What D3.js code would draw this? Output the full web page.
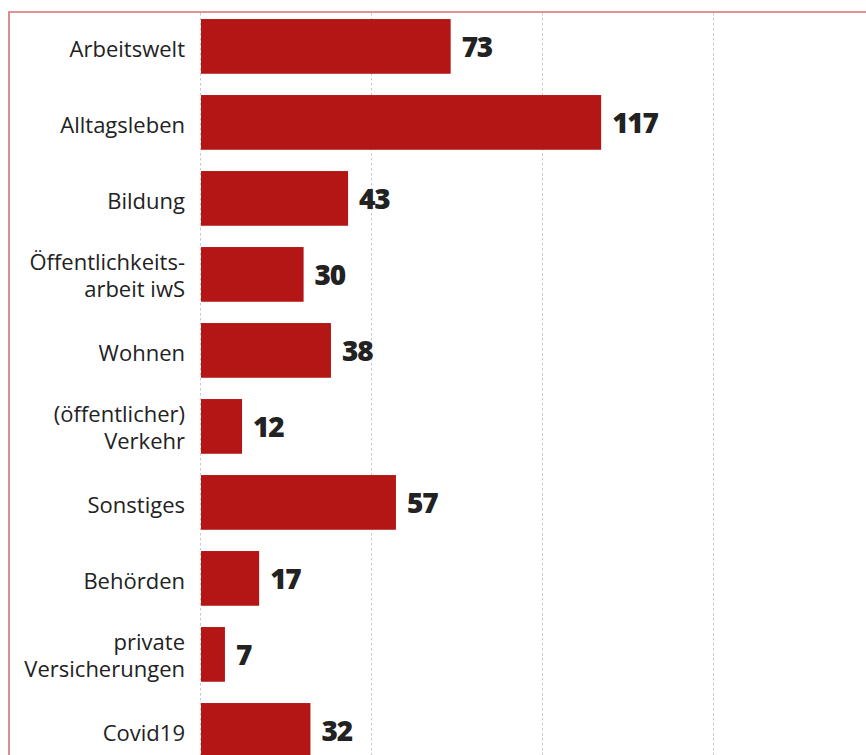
<!DOCTYPE html>
<html>
<head>
<meta charset="utf-8">
<script src="https://cdn.jsdelivr.net/npm/d3@7"></script>
<style>
  html, body { margin: 0; padding: 0; background: #fff; }
  svg { display: block; }
</style>
</head>
<body>
<svg id="chart" width="866" height="755"></svg>
<script>
// categories (line breaks marked with \n), counts, grid ticks
const categories = [
  'Arbeitswelt',
  'Alltagsleben',
  'Bildung',
  'Öffentlichkeits-\narbeit iwS',
  'Wohnen',
  '(öffentlicher)\nVerkehr',
  'Sonstiges',
  'Behörden',
  'private\nVersicherungen',
  'Covid19'
];
const counts = [73, 117, 43, 30, 38, 12, 57, 17, 7, 32];
const gridTicks = [0, 50, 100, 150];

const width = 866;
const height = 755;
const barColor = '#b41515';
const textColor = '#222222';

const svg = d3.select('#chart');

const xScale = d3.scaleLinear().domain([0, 150]).range([201, 714]);
const yScale = d3.scaleBand().domain(categories).range([8.4, 768.4])
  .paddingInner(0.28).paddingOuter(0.14);

// frame
svg.append('path')
  .attr('d', `M9,${height + 5}V12H${width + 5}`)
  .attr('fill', 'none')
  .attr('stroke', '#d37272')
  .attr('stroke-width', 1.6);

// dotted grid
svg.append('g')
  .selectAll('line')
  .data(gridTicks)
  .enter().append('line')
  .attr('x1', d => Math.round(xScale(d)) - 0.5)
  .attr('x2', d => Math.round(xScale(d)) - 0.5)
  .attr('y1', 13)
  .attr('y2', height)
  .attr('stroke', '#c8c8c8')
  .attr('stroke-width', 1)
  .attr('stroke-dasharray', '2.5,2.5');

// bars
svg.append('g')
  .selectAll('rect')
  .data(counts)
  .enter().append('rect')
  .attr('x', xScale(0))
  .attr('y', (d, i) => yScale(categories[i]))
  .attr('width', d => xScale(d) - xScale(0))
  .attr('height', yScale.bandwidth())
  .attr('fill', barColor);

// category labels
const labels = svg.append('g')
  .selectAll('text')
  .data(categories)
  .enter().append('text')
  .attr('text-anchor', 'end')
  .attr('fill', textColor)
  .style('font-family', '"Open Sans", sans-serif')
  .style('font-size', '22px');

labels.each(function(d) {
  const lines = d.split('\n');
  const cy = yScale(d) + yScale.bandwidth() / 2;
  const first = lines.length === 1 ? cy + 10.5 : cy - 4.5;
  d3.select(this).selectAll('tspan')
    .data(lines)
    .enter().append('tspan')
    .attr('x', 185)
    .attr('y', (l, j) => first + j * 27.5)
    .text(l => l);
});

// value labels
svg.append('g')
  .selectAll('text')
  .data(counts)
  .enter().append('text')
  .attr('x', d => xScale(d) + 11)
  .attr('y', (d, i) => yScale(categories[i]) + yScale.bandwidth() / 2 + 11)
  .attr('fill', textColor)
  .style('font-family', '"Open Sans", sans-serif')
  .style('font-weight', 800)
  .style('font-size', '28px')
  .style('letter-spacing', '-1.2px')
  .text(d => d);
</script>
</body>
</html>
